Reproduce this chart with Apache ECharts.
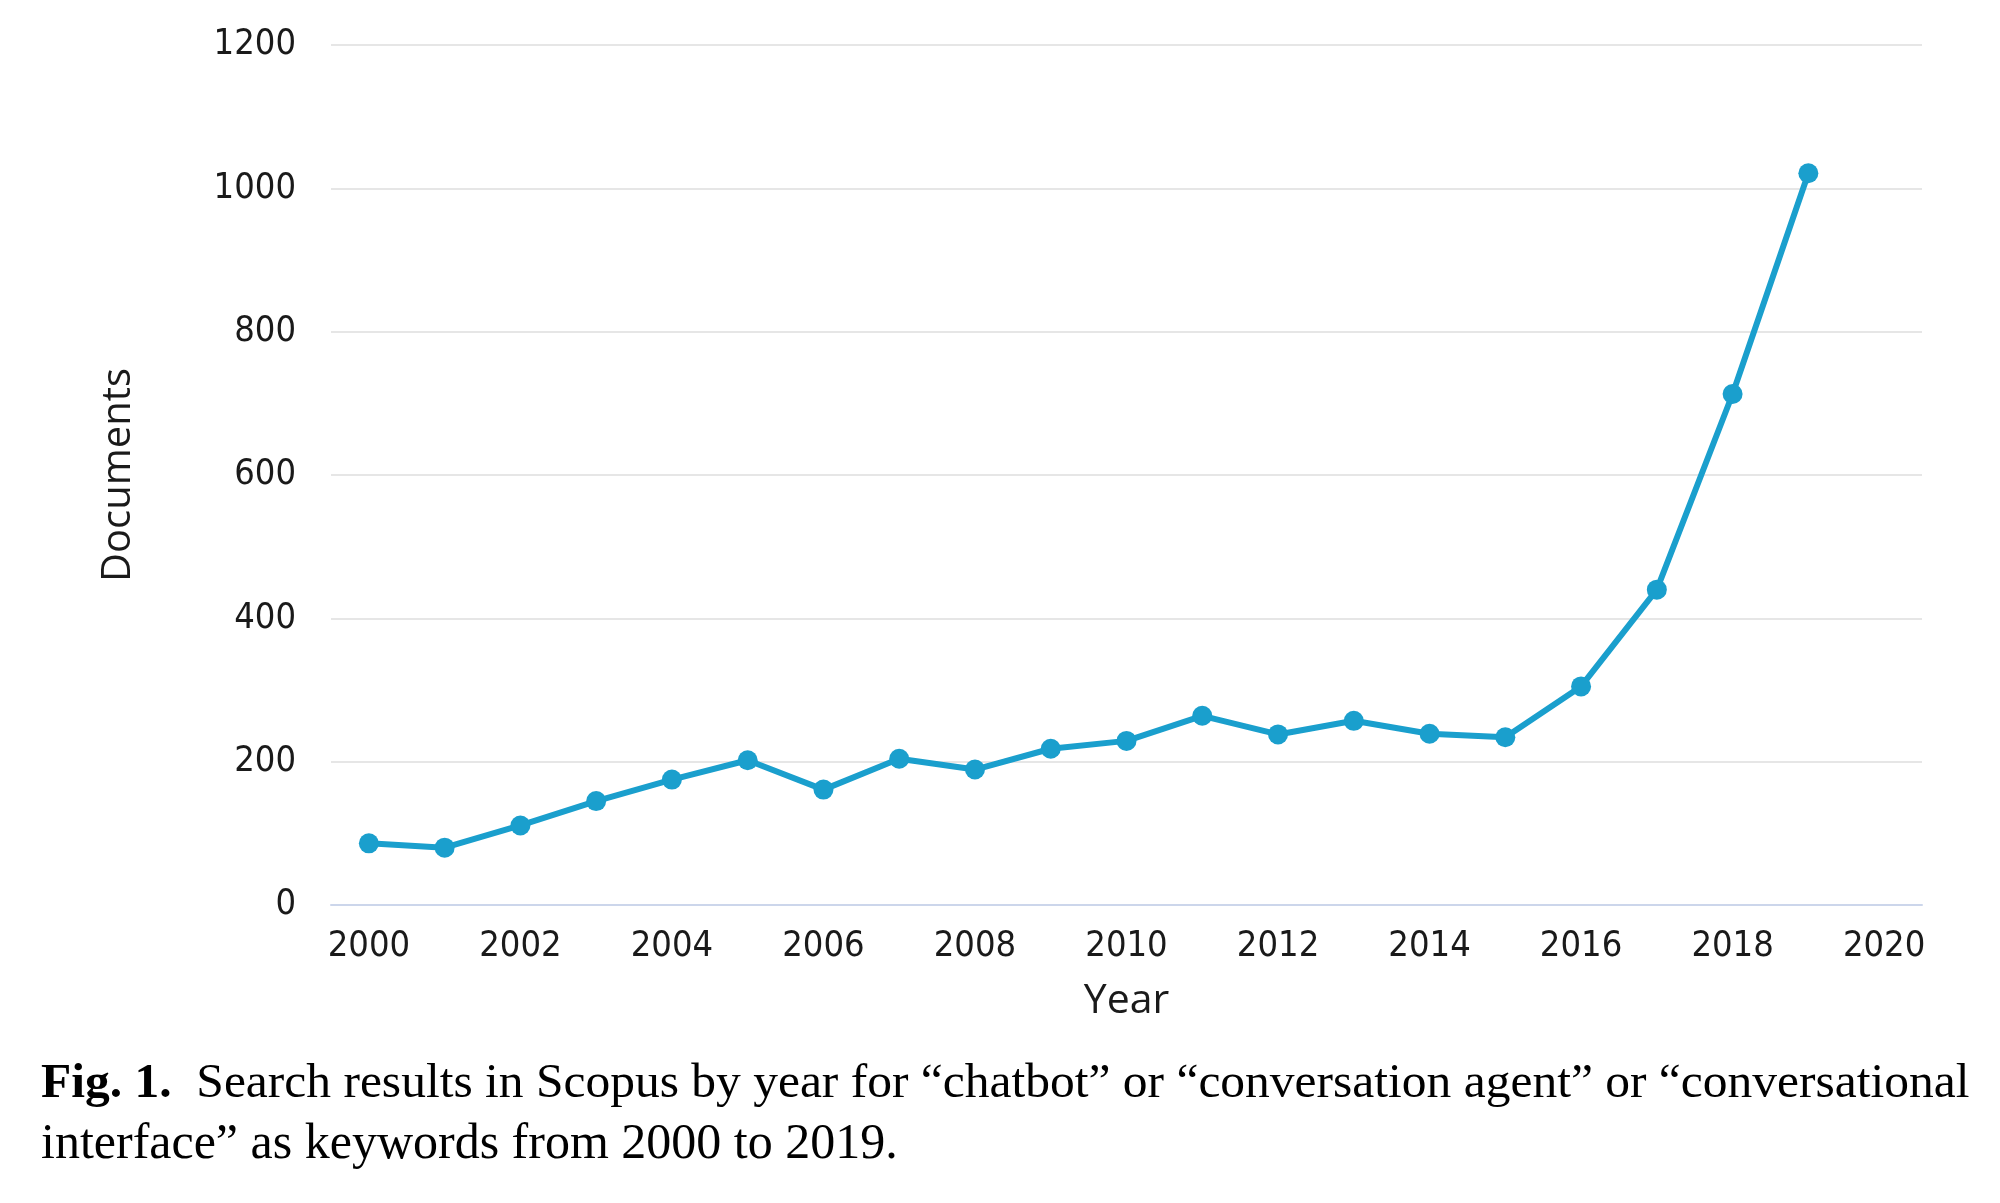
<!DOCTYPE html>
<html>
<head>
<meta charset="utf-8">
<script src="https://cdn.jsdelivr.net/npm/echarts@6/dist/echarts.min.js"></script>
<style>
  html, body { margin: 0; padding: 0; background: #fff; }
  #chart { width: 2000px; height: 1203px; }
</style>
</head>
<body>
<div id="chart"></div>
<script>
  // axis categories (2020 is on the axis but has no value)
  const years = ['2000', '2001', '2002', '2003', '2004', '2005', '2006', '2007',
    '2008', '2009', '2010', '2011', '2012', '2013', '2014', '2015', '2016',
    '2017', '2018', '2019', '2020'];
  const documents = [86, 80, 111, 145, 175, 202, 161, 204, 189, 218, 229, 264,
    238, 257, 239, 234, 305, 440, 713, 1021];
  const yTicks = [0, 200, 400, 600, 800, 1000, 1200];

  const captionBold = 'Fig. 1.';
  const captionLine1 = 'Search results in Scopus by year for \u201cchatbot\u201d or \u201cconversation agent\u201d or \u201cconversational';
  const captionLine2 = 'interface\u201d as keywords from 2000 to 2019.';

  const tickFont = '"Liberation Sans Narrow", "DejaVu Sans Condensed", sans-serif';
  const serifFont = '"Liberation Serif", "Times New Roman", serif';
  const lineColor = '#1a9fcd';

  const chart = echarts.init(document.getElementById('chart'), null, {renderer: 'canvas'});
  chart.setOption({
    animation: false,
    backgroundColor: '#ffffff',
    grid: {left: 331, right: 78, top: 45, bottom: 298},
    xAxis: {
      type: 'category',
      data: years,
      boundaryGap: true,
      name: 'Year',
      nameLocation: 'middle',
      nameGap: 76,
      nameTextStyle: {fontFamily: '"Open Sans", sans-serif', fontSize: 41, color: '#1a1a1a'},
      axisLine: {lineStyle: {color: '#ccd6eb', width: 2}},
      axisTick: {show: false},
      axisLabel: {
        interval: 1,
        margin: 24,
        fontFamily: tickFont,
        fontSize: 36,
        color: '#1a1a1a',
      },
      splitLine: {show: false},
    },
    yAxis: {
      type: 'value',
      min: yTicks[0],
      max: yTicks[yTicks.length - 1],
      interval: 200,
      name: 'Documents',
      nameLocation: 'middle',
      nameRotate: 90,
      nameGap: 192,
      nameTextStyle: {fontFamily: '"Open Sans", sans-serif', fontSize: 40, color: '#1a1a1a'},
      axisLine: {show: false},
      axisTick: {show: false},
      axisLabel: {
        margin: 35,
        fontFamily: tickFont,
        fontSize: 36,
        color: '#1a1a1a',
        formatter: (value) => String(value),
      },
      splitLine: {lineStyle: {color: '#e6e6e6', width: 2}},
    },
    series: [{
      type: 'line',
      data: documents,
      symbol: 'circle',
      symbolSize: 20,
      itemStyle: {color: lineColor},
      lineStyle: {color: lineColor, width: 6},
      z: 5,
    }],
    graphic: [
      {
        type: 'text',
        left: 41,
        top: 1059,
        style: {
          text: '{b|' + captionBold + '}  ' + captionLine1,
          fontFamily: serifFont,
          fontSize: 49.5,
          fill: '#000',
          rich: {b: {fontWeight: 'bold', fontFamily: serifFont, fontSize: 49.5}},
        },
      },
      {
        type: 'text',
        left: 41,
        top: 1120,
        style: {
          text: captionLine2,
          fontFamily: serifFont,
          fontSize: 50,
          fill: '#000',
        },
      },
    ],
  });
</script>
</body>
</html>
